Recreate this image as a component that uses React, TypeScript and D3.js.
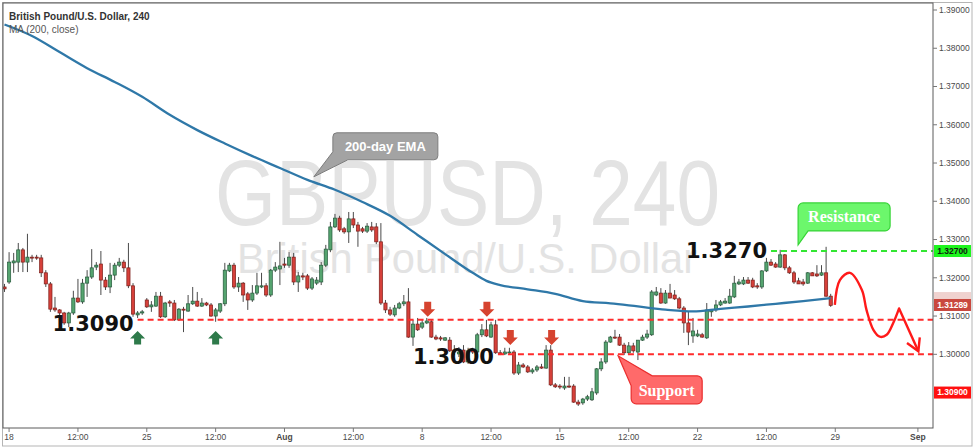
import React from 'react';
import * as d3 from 'd3';

// ---------- DATA ----------
const openP = [
  1.3176,1.3189,1.3239,1.3241,1.3273,1.3241,1.3254,1.3254,1.3252,1.3213,
  1.3184,1.3121,1.3116,1.3108,1.3082,1.3108,1.3147,1.3137,1.3186,1.3202,
  1.3228,1.3236,1.3194,1.3176,1.3207,1.3233,1.3241,1.3226,1.3179,1.3103,
  1.3108,1.3142,1.3124,1.3126,1.3152,1.3098,1.3137,1.3134,1.3090,1.3118,
  1.3113,1.3132,1.3139,1.3126,1.3134,1.3129,1.3100,1.3113,1.3132,1.3218,
  1.3233,1.3176,1.3186,1.3158,1.3142,1.3160,1.3176,1.3179,1.3155,1.3220,
  1.3223,1.3236,1.3233,1.3254,1.3189,1.3205,1.3205,1.3173,1.3186,1.3189,
  1.3233,1.3273,1.3333,1.3356,1.3328,1.3320,1.3354,1.3338,1.3328,1.3322,
  1.3333,1.3333,1.3294,1.3134,1.3116,1.3103,1.3121,1.3132,1.3137,1.3045,
  1.3079,1.3071,1.3082,1.3085,1.3045,1.3043,1.3037,1.3037,1.3011,1.3001,
  1.3011,1.2980,1.3011,1.3006,1.3051,1.3064,1.3045,1.3077,1.3004,1.3001,
  1.3004,1.3006,1.2951,1.2972,1.2967,1.2954,1.2959,1.2967,1.2964,1.3011,
  1.2920,1.2917,1.2912,1.2917,1.2917,1.2875,1.2873,1.2883,1.2881,1.2899,
  1.2962,1.2980,1.3032,1.3045,1.3045,1.3024,1.3004,1.3022,1.3006,1.3037,
  1.3045,1.3051,1.3155,1.3160,1.3134,1.3160,1.3155,1.3145,1.3121,1.3082,
  1.3048,1.3048,1.3051,1.3043,1.3111,1.3116,1.3129,1.3134,1.3134,1.3150,
  1.3184,1.3184,1.3194,1.3194,1.3179,1.3176,1.3218,1.3241,1.3236,1.3228,
  1.3260,1.3226,1.3213,1.3192,1.3189,1.3186,1.3213,1.3210,1.3207,1.3213,
  1.3152,
];
const highP = [
  1.3184,1.3267,1.3265,1.3291,1.3278,1.3315,1.3260,1.3260,1.3260,1.3220,
  1.3189,1.3150,1.3118,1.3111,1.3111,1.3166,1.3197,1.3197,1.3220,1.3275,
  1.3241,1.3270,1.3202,1.3239,1.3239,1.3252,1.3247,1.3291,1.3186,1.3113,
  1.3116,1.3147,1.3139,1.3163,1.3163,1.3137,1.3142,1.3142,1.3121,1.3124,
  1.3155,1.3176,1.3163,1.3147,1.3137,1.3134,1.3121,1.3134,1.3239,1.3239,
  1.3239,1.3202,1.3189,1.3163,1.3181,1.3213,1.3213,1.3186,1.3223,1.3241,
  1.3294,1.3252,1.3267,1.3265,1.3215,1.3213,1.3210,1.3202,1.3202,1.3241,
  1.3286,1.3346,1.3367,1.3362,1.3333,1.3372,1.3372,1.3346,1.3333,1.3343,
  1.3346,1.3343,1.3343,1.3142,1.3124,1.3129,1.3137,1.3155,1.3173,1.3090,
  1.3095,1.3090,1.3095,1.3092,1.3051,1.3048,1.3045,1.3045,1.3024,1.3019,
  1.3024,1.3017,1.3017,1.3056,1.3079,1.3090,1.3085,1.3090,1.3011,1.3017,
  1.3017,1.3011,1.2980,1.2977,1.2972,1.2964,1.2972,1.2975,1.3024,1.3024,
  1.2925,1.2922,1.2941,1.2941,1.2922,1.2881,1.2886,1.2894,1.2912,1.2964,
  1.2990,1.3037,1.3048,1.3064,1.3053,1.3030,1.3032,1.3030,1.3037,1.3051,
  1.3064,1.3168,1.3176,1.3173,1.3168,1.3184,1.3168,1.3150,1.3126,1.3111,
  1.3095,1.3064,1.3056,1.3134,1.3118,1.3142,1.3142,1.3147,1.3171,1.3205,
  1.3197,1.3202,1.3202,1.3200,1.3186,1.3220,1.3252,1.3249,1.3241,1.3273,
  1.3262,1.3231,1.3218,1.3200,1.3197,1.3215,1.3215,1.3233,1.3233,1.3281,
  1.3158,
];
const lowP = [
  1.3163,1.3184,1.3213,1.3215,1.3215,1.3215,1.3241,1.3247,1.3202,1.3176,
  1.3111,1.3111,1.3098,1.3077,1.3071,1.3103,1.3134,1.3132,1.3150,1.3197,
  1.3220,1.3155,1.3168,1.3160,1.3194,1.3228,1.3215,1.3173,1.3098,1.3095,
  1.3103,1.3121,1.3111,1.3124,1.3095,1.3095,1.3124,1.3087,1.3087,1.3058,
  1.3111,1.3129,1.3124,1.3124,1.3126,1.3098,1.3085,1.3108,1.3126,1.3215,
  1.3171,1.3163,1.3137,1.3116,1.3137,1.3155,1.3173,1.3150,1.3150,1.3215,
  1.3181,1.3226,1.3226,1.3181,1.3163,1.3194,1.3168,1.3168,1.3181,1.3181,
  1.3228,1.3267,1.3330,1.3320,1.3315,1.3291,1.3330,1.3281,1.3317,1.3317,
  1.3320,1.3288,1.3129,1.3108,1.3100,1.3098,1.3118,1.3126,1.3043,1.3022,
  1.3061,1.3066,1.3079,1.3043,1.3037,1.3035,1.3035,1.3006,1.2998,1.2993,
  1.2977,1.2975,1.3001,1.2998,1.3045,1.3045,1.3043,1.3001,1.2998,1.2998,
  1.3001,1.2946,1.2946,1.2964,1.2951,1.2949,1.2954,1.2962,1.2962,1.2917,
  1.2912,1.2909,1.2907,1.2912,1.2873,1.2865,1.2868,1.2878,1.2878,1.2894,
  1.2956,1.2975,1.3030,1.3040,1.3022,1.2998,1.3001,1.3004,1.2985,1.3035,
  1.3040,1.3048,1.3152,1.3132,1.3132,1.3147,1.3142,1.3118,1.3056,1.3024,
  1.3030,1.3045,1.3043,1.3040,1.3098,1.3111,1.3126,1.3132,1.3132,1.3147,
  1.3181,1.3181,1.3184,1.3173,1.3171,1.3171,1.3215,1.3231,1.3226,1.3226,
  1.3220,1.3210,1.3184,1.3184,1.3179,1.3184,1.3205,1.3202,1.3205,1.3150,
  1.3124,
];
const closeP = [
  1.3171,1.3241,1.3244,1.3273,1.3241,1.3254,1.3252,1.3252,1.3213,1.3184,
  1.3118,1.3116,1.3108,1.3082,1.3108,1.3147,1.3137,1.3186,1.3202,1.3226,
  1.3233,1.3194,1.3176,1.3207,1.3233,1.3241,1.3226,1.3179,1.3105,1.3108,
  1.3111,1.3124,1.3129,1.3152,1.3098,1.3134,1.3134,1.3090,1.3118,1.3116,
  1.3132,1.3139,1.3126,1.3134,1.3129,1.3100,1.3116,1.3132,1.3220,1.3233,
  1.3176,1.3186,1.3155,1.3142,1.3160,1.3179,1.3179,1.3155,1.3220,1.3228,
  1.3231,1.3233,1.3254,1.3189,1.3205,1.3202,1.3173,1.3197,1.3194,1.3233,
  1.3275,1.3333,1.3356,1.3325,1.3320,1.3354,1.3338,1.3322,1.3322,1.3335,
  1.3325,1.3294,1.3134,1.3116,1.3105,1.3121,1.3132,1.3137,1.3045,1.3079,
  1.3064,1.3082,1.3087,1.3045,1.3040,1.3040,1.3043,1.3009,1.3006,1.3006,
  1.2980,1.3009,1.3006,1.3051,1.3064,1.3048,1.3077,1.3004,1.3001,1.3006,
  1.3006,1.2951,1.2972,1.2967,1.2954,1.2959,1.2967,1.2964,1.3011,1.2920,
  1.2915,1.2915,1.2917,1.2915,1.2875,1.2870,1.2883,1.2889,1.2902,1.2962,
  1.2980,1.3032,1.3045,1.3043,1.3024,1.3004,1.3022,1.3009,1.3037,1.3045,
  1.3053,1.3163,1.3163,1.3134,1.3160,1.3147,1.3145,1.3121,1.3082,1.3058,
  1.3061,1.3053,1.3045,1.3116,1.3116,1.3129,1.3137,1.3139,1.3152,1.3186,
  1.3189,1.3194,1.3186,1.3176,1.3176,1.3218,1.3241,1.3233,1.3228,1.3260,
  1.3226,1.3213,1.3189,1.3184,1.3184,1.3213,1.3205,1.3205,1.3213,1.3152,
  1.3128,
];

// 200-period moving average (sampled every 6 bars)
const emaIdx = [0,6,12,18,24,30,36,42,48,54,60,66,72,78,84,90,96,102,105,108,114,120,126,132,138,144,150,156,162,168,174,180];
const emaVal = [1.3862,1.3832,1.3790,1.3748,1.3712,1.3673,1.3626,1.3586,1.3551,1.3518,1.3487,1.3456,1.3430,1.3398,1.3362,1.3312,1.3262,1.3213,1.3192,1.3181,1.3170,1.3158,1.3139,1.3133,1.3125,1.3117,1.3112,1.3119,1.3125,1.3132,1.3139,1.3147];

const priceTicks = [1.39,1.38,1.37,1.36,1.35,1.34,1.33,1.32,1.31,1.30];
const timeTickIdx = [1,16,31,46,61,76,91,106,121,136,151,166,181,199];
const timeTickLabels = ['18','12:00','25','12:00','Aug','12:00','8','12:00','15','12:00','22','12:00','29','Sep'];

// horizontal levels
const levelPrice = [1.3090, 1.3000, 1.3270];
const levelStartIdx = [29, 107.5, 167];
const levelText = ['1.3090', '1.3000', '1.3270'];

// price tags on right scale
const tagPrice = [1.3270, 1.31289, 1.2900];
const tagText = ['1.32700', '1.31289', '1.30900'];

// arrows
const upArrowIdx = [29, 46];
const upArrowPrice = 1.3061;
const downArrowIdx = [92.2, 105.1, 110.2, 119.2];
const downArrowPrice = [1.3098, 1.3098, 1.3024, 1.3024];

// forecast path
const fcIdx = [180.9, 182.0, 184.2, 186.8, 187.8, 189.3, 190.7, 192.2, 193.6, 194.9];
const fcVal = [1.3129, 1.3194, 1.3213, 1.3168, 1.3116, 1.3064, 1.3046, 1.3051, 1.3081, 1.3120];
const fcTip = [199.1, 1.3008];

// callout tips (index, price)
const emaNoteTip = [67.4, 1.3464];
const resNoteTip = [172.9, 1.3286];
const supNoteTip = [133.7, 1.2996];

export default function App() {
  const W = 975, H = 448;
  const plotL = 3, plotR = 933, plotT = 3, plotB = 428;
  const x = d3.scaleLinear().domain([0, 199]).range([4.5, 917.9]);
  const y = d3.scaleLinear().domain([1.30, 1.39]).range([354.3, 10]);

  const candles = closeP.map((c, i) => ({ i, o: openP[i], h: highP[i], l: lowP[i], c }));
  const bw = 3.2;

  const emaLine = d3.line<number>()
    .x((_, k) => x(emaIdx[k]))
    .y((v) => y(v))
    .curve(d3.curveMonotoneX)(emaVal) || '';

  const fcLine = d3.line<number>()
    .x((_, k) => x(fcIdx[k]))
    .y((v) => y(v))
    .curve(d3.curveCatmullRom.alpha(0.5))(fcVal) || '';
  const lastX = x(fcIdx[fcIdx.length - 1]), lastY = y(fcVal[fcVal.length - 1]);
  const tipX = x(fcTip[0]), tipY = y(fcTip[1]);
  const dx = tipX - lastX, dy = tipY - lastY;
  const len = Math.hypot(dx, dy);
  const ux = -dx / len, uy = -dy / len;
  const arm = 14, ang = Math.PI / 6;
  const a1 = [tipX + arm * (ux * Math.cos(ang) - uy * Math.sin(ang)), tipY + arm * (ux * Math.sin(ang) + uy * Math.cos(ang))];
  const a2 = [tipX + arm * (ux * Math.cos(-ang) - uy * Math.sin(-ang)), tipY + arm * (ux * Math.sin(-ang) + uy * Math.cos(-ang))];

  // callout helpers
  const calloutBL = (tx: number, ty: number, bx0: number, by0: number, bx1: number, by1: number, ax: number, byB: number, r: number) =>
    `M${bx0 + r},${by0} H${bx1 - r} A${r},${r} 0 0 1 ${bx1},${by0 + r} V${by1 - r} A${r},${r} 0 0 1 ${bx1 - r},${by1} H${ax} L${tx},${ty} L${bx0},${byB} V${by0 + r} A${r},${r} 0 0 1 ${bx0 + r},${by0} Z`;
  const calloutTL = (tx: number, ty: number, bx0: number, by0: number, bx1: number, by1: number, ax: number, byB: number, r: number) =>
    `M${ax},${by0} H${bx1 - r} A${r},${r} 0 0 1 ${bx1},${by0 + r} V${by1 - r} A${r},${r} 0 0 1 ${bx1 - r},${by1} H${bx0 + r} A${r},${r} 0 0 1 ${bx0},${by1 - r} V${byB} L${tx},${ty} Z`;

  const eT = [x(emaNoteTip[0]), y(emaNoteTip[1])];
  const rT = [x(resNoteTip[0]), y(resNoteTip[1])];
  const sT = [x(supNoteTip[0]), y(supNoteTip[1])];

  const emaPath = calloutBL(eT[0], eT[1], eT[0] + 19, eT[1] - 44, eT[0] + 124, eT[1] - 17, eT[0] + 34, eT[1] - 25, 4);
  const resPath = calloutBL(rT[0], rT[1], rT[0], rT[1] - 42, rT[0] + 92, rT[1] - 14, rT[0] + 10, rT[1] - 20, 5);
  const supPath = calloutTL(sT[0], sT[1], sT[0] + 13, sT[1] + 20, sT[0] + 84, sT[1] + 48, sT[0] + 34, sT[1] + 30, 5);

  const upArrow = (cx: number, ty: number) =>
    `M${cx},${ty} L${cx + 7.5},${ty + 7.5} L${cx + 3.5},${ty + 7.5} L${cx + 3.5},${ty + 13.5} L${cx - 3.5},${ty + 13.5} L${cx - 3.5},${ty + 7.5} L${cx - 7.5},${ty + 7.5} Z`;
  const downArrow = (cx: number, by: number) =>
    `M${cx},${by} L${cx + 7.5},${by - 7.5} L${cx + 3.5},${by - 7.5} L${cx + 3.5},${by - 15} L${cx - 3.5},${by - 15} L${cx - 3.5},${by - 7.5} L${cx - 7.5},${by - 7.5} Z`;

  const levelColor = ['#ff2b2b', '#ff2b2b', '#33e633'];
  const levelLabelDy = [11, 10, 7];
  const tagFill = ['#1ef51e', '#c9483e', '#ff1010'];
  const tagTextColor = ['#102010', '#ffffff', '#ffffff'];

  return (
    <svg width={W} height={H} style={{ position: 'absolute', left: 0, top: 0, background: '#fff' }}
      fontFamily="'Liberation Sans', Arial, sans-serif">
      <defs>
        <clipPath id="plotClip">
          <rect x={plotL} y={plotT} width={plotR - plotL} height={plotB - plotT} />
        </clipPath>
      </defs>
      <rect x={0} y={0} width={W} height={H} fill="#fff" />

      {/* watermark */}
      <text x={467.5} y={225} textAnchor="middle" fontSize={92} fill="#e3e3e3"
        textLength={505} lengthAdjust="spacingAndGlyphs">GBPUSD, 240</text>
      <text x={467} y={273} textAnchor="middle" fontSize={42} fill="#e3e3e3"
        textLength={460} lengthAdjust="spacingAndGlyphs">British Pound/U.S. Dollar</text>

      <g clipPath="url(#plotClip)">
        {/* candles */}
        {candles.map((d) => {
          const up = d.c >= d.o;
          const cx = x(d.i);
          const top = y(Math.max(d.o, d.c));
          const bot = y(Math.min(d.o, d.c));
          return (
            <g key={d.i}>
              <line x1={cx} x2={cx} y1={y(d.h)} y2={y(d.l)} stroke="#4a4a4a" strokeWidth={1} />
              <rect x={cx - bw / 2} y={top} width={bw} height={Math.max(1, bot - top)}
                fill={up ? '#55a46f' : '#d6403a'} stroke={up ? '#24583a' : '#7c1d18'} strokeWidth={0.7} />
            </g>
          );
        })}

        {/* moving average */}
        <path d={emaLine} fill="none" stroke="#2f78a8" strokeWidth={2.3} />

        {/* levels */}
        {levelPrice.map((p, k) => (
          <line key={k} x1={x(levelStartIdx[k])} x2={plotR} y1={y(p)} y2={y(p)}
            stroke={levelColor[k]} strokeWidth={2} strokeDasharray="6,4" />
        ))}

        {/* forecast path */}
        <path d={fcLine + ` L${tipX},${tipY}`} fill="none" stroke="#ff1a1a" strokeWidth={2.4} strokeLinejoin="round" />
        <path d={`M${a1[0]},${a1[1]} L${tipX},${tipY} L${a2[0]},${a2[1]}`} fill="none" stroke="#ff1a1a" strokeWidth={2.4} />

        {/* arrows */}
        {upArrowIdx.map((ix, k) => (
          <path key={'u' + k} d={upArrow(x(ix), y(upArrowPrice))} fill="#2e7a4a" />
        ))}
        {downArrowIdx.map((ix, k) => (
          <path key={'d' + k} d={downArrow(x(ix), y(downArrowPrice[k]))} fill="#d6432f" />
        ))}

        {/* level labels */}
        {levelPrice.map((p, k) => (
          <text key={'lt' + k} x={x(levelStartIdx[k]) - 4} y={y(p) + levelLabelDy[k]} textAnchor="end"
            fontFamily="'DejaVu Sans', sans-serif" fontWeight="bold" fontSize={21} fill="#111"
            textLength={81} lengthAdjust="spacingAndGlyphs">{levelText[k]}</text>
        ))}

        {/* callouts */}
        <path d={emaPath} fill="#a3a3a3" stroke="#7d7d7d" strokeWidth={1} />
        <text x={eT[0] + 71.5} y={eT[1] - 26} textAnchor="middle" fontWeight="bold" fontSize={13} fill="#fff">200-day EMA</text>

        <path d={resPath} fill="#6cf76c" stroke="#37d437" strokeWidth={1.2} />
        <text x={rT[0] + 46} y={rT[1] - 23} textAnchor="middle" fontFamily="'Liberation Serif', 'DejaVu Serif', serif"
          fontWeight="bold" fontSize={16} fill="#fff">Resistance</text>

        <path d={supPath} fill="#ff6a6a" stroke="#ea2e2e" strokeWidth={1.2} />
        <text x={sT[0] + 48.5} y={sT[1] + 40} textAnchor="middle" fontFamily="'Liberation Serif', 'DejaVu Serif', serif"
          fontWeight="bold" fontSize={16} fill="#fff">Support</text>
      </g>

      {/* title */}
      <text x={9} y={19.5} fontSize={10} fontWeight="bold" fill="#333">British Pound/U.S. Dollar, 240</text>
      <text x={9} y={32.5} fontSize={10} fill="#555">MA (200, close)</text>

      {/* frames */}
      <rect x={2.5} y={2.5} width={969.5} height={443.5} fill="none" stroke="#b5b5b5" strokeWidth={1} />
      <rect x={plotL} y={plotT} width={plotR - plotL} height={plotB - plotT} fill="none" stroke="#5a5a5a" strokeWidth={1} />

      {/* right price scale */}
      {priceTicks.map((p) => (
        <g key={p}>
          <line x1={plotR} x2={plotR + 4} y1={y(p)} y2={y(p)} stroke="#777" />
          <text x={plotR + 6} y={y(p)} dy="0.33em" fontSize={8.5} fill="#4a4a4a">{p.toFixed(5)}</text>
        </g>
      ))}
      <rect x={plotR + 1} y={y(emaVal[emaVal.length - 1]) - 6} width={37} height={12} fill="#f0d2cf" />
      {tagPrice.map((p, k) => (
        <g key={'tag' + k}>
          <rect x={plotR + 1} y={y(p) - 6} width={37} height={12} fill={tagFill[k]} />
          <text x={plotR + 19.5} y={y(p)} dy="0.34em" textAnchor="middle" fontSize={8.5} fontWeight="bold"
            fill={tagTextColor[k]}>{tagText[k]}</text>
        </g>
      ))}

      {/* time axis */}
      {timeTickIdx.map((ix, k) => (
        <g key={'t' + k}>
          <line x1={x(ix)} x2={x(ix)} y1={plotB} y2={plotB + 4} stroke="#777" />
          <text x={x(ix)} y={440} textAnchor="middle" fontSize={8.5}
            fontWeight={timeTickLabels[k] === 'Aug' || timeTickLabels[k] === 'Sep' ? 'bold' : 'normal'}
            fill="#4a4a4a">{timeTickLabels[k]}</text>
        </g>
      ))}
    </svg>
  );
}
